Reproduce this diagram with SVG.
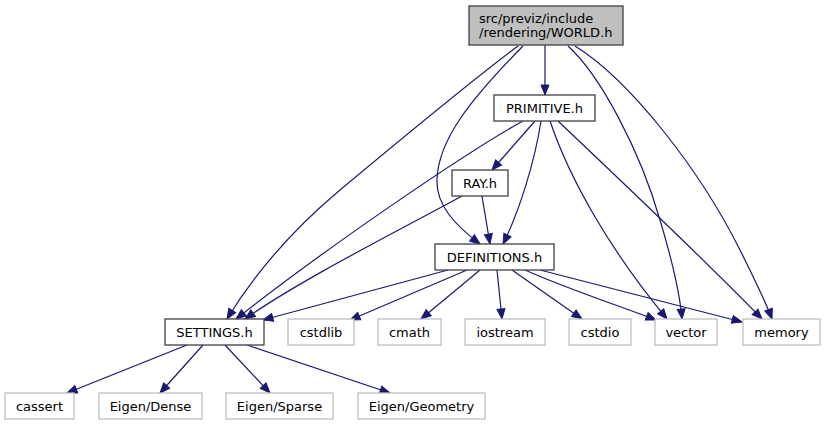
<svg xmlns="http://www.w3.org/2000/svg" width="825" height="425" viewBox="0 0 825 425">
<style>
  .n rect { fill: #ffffff; stroke: #404040; stroke-width: 1.3; }
  .n.root rect { fill: #bfbfbf; }
  .n.ext rect { stroke: #bfbfbf; }
  text { font-family: "DejaVu Sans", sans-serif; font-size: 13px; fill: #000000; text-anchor: middle; }
  #edges path { fill: none; stroke: #191970; stroke-width: 1.2; marker-end: url(#arr); }
</style>
<defs>
  <marker id="arr" markerUnits="userSpaceOnUse" markerWidth="12" markerHeight="10" refX="10" refY="4" orient="auto" overflow="visible">
    <polygon points="0,0 10,4 0,8" fill="#191970" stroke="#191970" stroke-width="1"/>
  </marker>
</defs>
<rect width="825" height="425" fill="#ffffff"/>
<g id="edges">
  <path d="M545,45 L545,95"/>
  <path d="M518,46 C475,78 400,140 340,190 C290,232 252,278 227,319"/>
  <path d="M523,46 C470,100 438,140 437,180 C436,205 455,225 480,244"/>
  <path d="M568,46 C600,75 640,150 660,220 C672,260 680,295 682,319"/>
  <path d="M575,46 C630,80 700,170 740,250 C755,280 765,300 772,319"/>
  <path d="M535,121 L492,170"/>
  <path d="M523,121 C470,150 330,245 236,319"/>
  <path d="M541,121 C535,160 520,210 503,244"/>
  <path d="M550,121 C570,180 610,250 667,319"/>
  <path d="M558,121 C620,180 700,255 762,319"/>
  <path d="M482,196 L490,244"/>
  <path d="M462,196 C400,230 300,280 245,319"/>
  <path d="M448,270 L263,320"/>
  <path d="M467,270 L350,320"/>
  <path d="M480,270 L421,319"/>
  <path d="M497,270 L502,319"/>
  <path d="M512,270 L582,319"/>
  <path d="M525,270 C570,290 620,306 656,320"/>
  <path d="M540,270 C620,290 690,308 742,322"/>
  <path d="M187,345 L67,393"/>
  <path d="M203,345 L160,393"/>
  <path d="M225,345 L270,393"/>
  <path d="M247,345 L390,393"/>
</g>
<g id="node-world" class="n root">
  <rect x="469" y="6" width="154" height="39"/>
  <text x="479" y="22.5" style="text-anchor:start">src/previz/include</text>
  <text x="479" y="36.5" style="text-anchor:start">/rendering/WORLD.h</text>
</g>
<g id="node-primitive" class="n">
  <rect x="494" y="95" width="101" height="26"/>
  <text x="544.5" y="112.5">PRIMITIVE.h</text>
</g>
<g id="node-ray" class="n">
  <rect x="452" y="170" width="56" height="26"/>
  <text x="480" y="187.5">RAY.h</text>
</g>
<g id="node-definitions" class="n">
  <rect x="435" y="244" width="119" height="26"/>
  <text x="494.5" y="261.5">DEFINITIONS.h</text>
</g>
<g id="node-settings" class="n">
  <rect x="165" y="319" width="99" height="26"/>
  <text x="214.5" y="336.5">SETTINGS.h</text>
</g>
<g id="node-cstdlib" class="n ext">
  <rect x="288" y="319" width="66" height="26"/>
  <text x="321" y="336.5">cstdlib</text>
</g>
<g id="node-cmath" class="n ext">
  <rect x="378" y="319" width="63" height="26"/>
  <text x="409.5" y="336.5">cmath</text>
</g>
<g id="node-iostream" class="n ext">
  <rect x="465" y="319" width="80" height="26"/>
  <text x="505" y="336.5">iostream</text>
</g>
<g id="node-cstdio" class="n ext">
  <rect x="569" y="319" width="62" height="26"/>
  <text x="600" y="336.5">cstdio</text>
</g>
<g id="node-vector" class="n ext">
  <rect x="655" y="319" width="62" height="26"/>
  <text x="686" y="336.5">vector</text>
</g>
<g id="node-memory" class="n ext">
  <rect x="743" y="319" width="77" height="26"/>
  <text x="781.5" y="336.5">memory</text>
</g>
<g id="node-cassert" class="n ext">
  <rect x="5" y="393" width="69" height="26"/>
  <text x="39.5" y="410.5">cassert</text>
</g>
<g id="node-eigen-dense" class="n ext">
  <rect x="99" y="393" width="103" height="26"/>
  <text x="150.5" y="410.5">Eigen/Dense</text>
</g>
<g id="node-eigen-sparse" class="n ext">
  <rect x="226" y="393" width="107" height="26"/>
  <text x="279.5" y="410.5">Eigen/Sparse</text>
</g>
<g id="node-eigen-geometry" class="n ext">
  <rect x="358" y="393" width="127" height="26"/>
  <text x="421.5" y="410.5">Eigen/Geometry</text>
</g>
</svg>
